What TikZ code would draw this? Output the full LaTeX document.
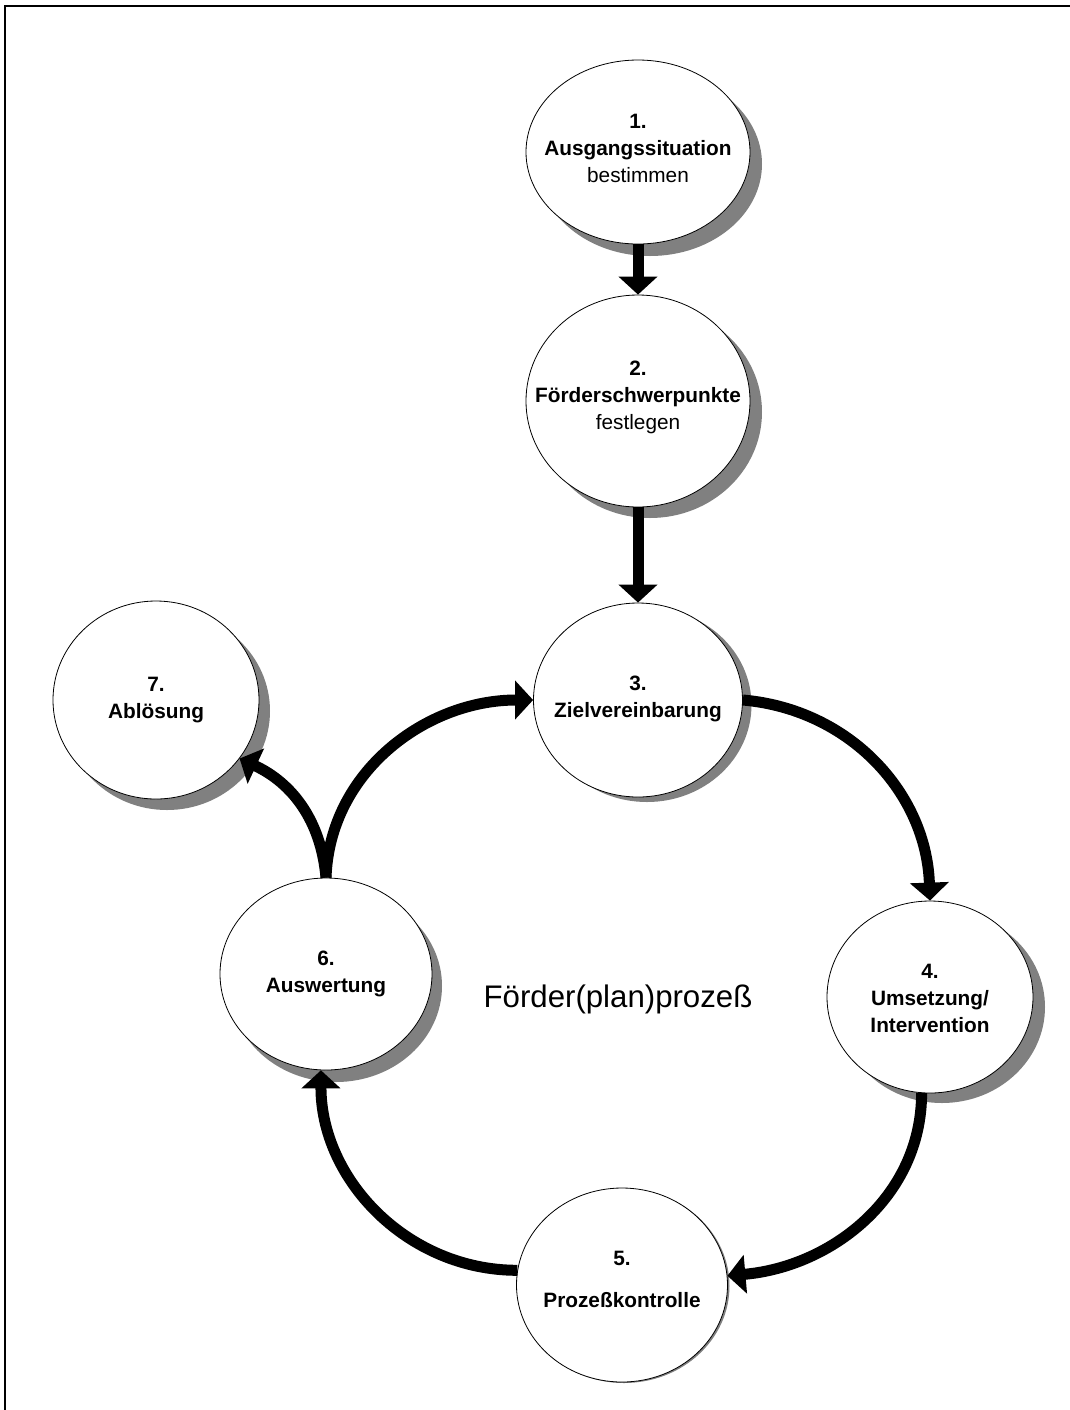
\documentclass[tikz,border=0pt]{standalone}
\usepackage{fontspec}
\setmainfont{Liberation Sans}
\usetikzlibrary{shapes.geometric,shadows,arrows.meta}

\tikzset{
  bubble/.style={ellipse, draw=black, line width=0.4pt, fill=white, inner sep=0pt},
  dropped/.style 2 args={drop shadow={shadow xshift=#1*0.5pt, shadow yshift=-#2*0.5pt, fill=black!50, opacity=1}},
  caption/.style={align=center, font=\fontsize{10.4}{13.5}\selectfont\bfseries},
  flow/.style={line width=5.5pt, -{Triangle[width=19pt,length=9pt]}}
}

\begin{document}
\begin{tikzpicture}[x=0.5pt, y=0.5pt]
 \useasboundingbox (0,0) rectangle (1070,-1410);
 \draw[line width=0.75pt] (5,-1410) -- (5,-6) -- (1070,-6);

 \begin{scope}[every node/.append style={bubble}]
    \node[dropped={12}{12}, minimum width=112pt, minimum height=92pt] (n1) at (638,-152) {};
    \node[dropped={12}{11}, minimum width=112pt, minimum height=106pt] (n2) at (638,-401) {};
    \node[dropped={9}{5}, minimum width=104.5pt, minimum height=97pt] (n3) at (638,-700) {};
    \node[dropped={12}{10}, minimum width=103pt, minimum height=96pt] (n4) at (930,-997) {};
    \node[dropped={2}{1}, minimum width=105.5pt, minimum height=97pt] (n5) at (622,-1285) {};
    \node[dropped={10}{12}, minimum width=106pt, minimum height=96pt] (n6) at (326,-974) {};
    \node[dropped={11}{11}, minimum width=103pt, minimum height=99pt] (n7) at (156,-700) {};
 \end{scope}

 \node[caption] (t1) at (638,-148) {1.\\Ausgangssituation\\{\mdseries bestimmen}};
 \node[caption] (t2) at (638,-397) {2.\\Förderschwerpunkte\\{\mdseries festlegen}};
 \node[caption] (t3) at (638,-699) {3.\\Zielvereinbarung};
 \node[caption] (t4) at (930,-998) {4.\\Umsetzung/\\Intervention};
 \node[caption] (t5) at (622,-1279) {5.\\[7.5pt]Prozeßkontrolle};
 \node[caption] (t6) at (326,-974) {6.\\Auswertung};
 \node[caption] (t7) at (156,-700) {7.\\Ablösung};

 \node[anchor=base, font=\fontsize{15.6}{18}\selectfont] (cycle) at (618,-1007) {Förder(plan)prozeß};

 \begin{scope}[every path/.style={flow}]
    \draw (n1) -- (n2);
    \draw (n2) -- (n3);
    \draw (n3.east) to[out=-5, in=92] (n4.north);
    \draw (n4.-95) to[out=-90, in=5] (n5.5);
    \draw (n5.172) to[out=180, in=-90] (n6.-93);
    \draw (n6.north) to[out=88, in=180] (n3.west);
    \draw (n6.north) to[out=95, in=-25] (n7.-35);
 \end{scope}
\end{tikzpicture}
\end{document}
